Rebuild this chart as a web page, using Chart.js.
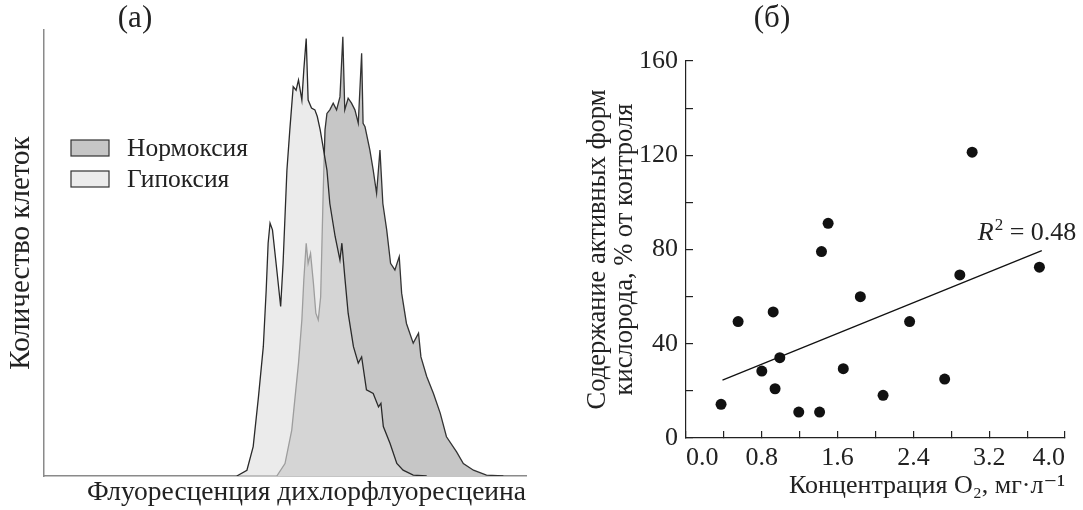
<!DOCTYPE html>
<html>
<head>
<meta charset="utf-8">
<script src="https://cdn.jsdelivr.net/npm/chart.js@4.4.0/dist/chart.umd.min.js"></script>
<style>
    body { margin: 0; background: #fff; }
    #left { position: absolute; left: 0; top: 0; }
    #right { position: absolute; left: 560px; top: 0; }
</style>
</head>
<body>
<canvas id="left" width="545" height="510"></canvas>
<canvas id="right" width="523" height="510"></canvas>
<script>

// panel (a) - histograms, fluorescence channel (0-100) vs cell count (0-100, arbitrary)
var hypoxiaX = [40.0, 42.1, 43.4, 44.5, 45.5, 46.1, 46.5, 46.9, 47.4, 48.3, 49.1, 49.6, 50.4, 51.0, 51.7, 52.3, 52.8, 53.5, 53.9, 54.4, 54.8, 55.5, 56.2, 56.7, 57.3, 57.9, 58.7, 59.3, 60.4, 61.4, 61.8, 62.4, 63.1, 64.2, 65.2, 65.9, 66.9, 68.3, 69.4, 69.9, 70.4, 71.8, 73.2, 74.5, 76.6, 79.4];
var hypoxiaY = [0, 1.3, 6.6, 17.8, 29.0, 41.7, 52.2, 56.7, 55.2, 46.2, 38.0, 47.7, 68.6, 77.6, 87.3, 86.5, 88.8, 84.3, 91.0, 98.1, 84.3, 82.5, 82.1, 80.6, 77.6, 73.8, 68.6, 61.1, 53.7, 48.4, 52.2, 44.7, 36.5, 29.0, 25.3, 26.7, 19.3, 18.5, 15.5, 16.3, 11.1, 7.3, 2.8, 1.3, 0.2, 0];

var normoxiaX = [48.3, 50.0, 51.4, 52.8, 53.5, 53.9, 54.4, 54.8, 55.3, 55.9, 56.4, 56.9, 57.4, 57.9, 58.3, 58.7, 59.3, 60.0, 60.7, 61.4, 62.0, 62.4, 63.1, 63.8, 64.5, 65.2, 65.9, 66.2, 66.6, 67.6, 68.3, 69.0, 69.7, 70.3, 71.1, 71.9, 72.8, 73.7, 74.2, 75.2, 76.6, 77.7, 78.2, 79.4, 80.8, 82.2, 83.5, 85.6, 87.0, 89.1, 91.8, 95.3];
var normoxiaY = [0, 2.8, 10.3, 25.3, 35.0, 43.9, 52.2, 47.7, 49.9, 43.2, 36.5, 35.0, 40.2, 62.6, 77.6, 81.3, 82.1, 83.6, 82.1, 85.0, 98.5, 82.1, 84.7, 83.6, 82.1, 79.1, 94.8, 79.1, 78.3, 73.1, 68.6, 63.4, 73.1, 61.1, 55.2, 47.7, 46.2, 49.2, 41.0, 34.2, 29.8, 32.0, 26.7, 22.3, 18.5, 14.1, 8.8, 5.4, 2.8, 1.3, 0.2, 0];

var seriesNames = ['Нормоксия', 'Гипоксия'];

// panel (б) - scatter
var concO2 = [0.37, 0.55, 0.80, 0.92, 0.94, 0.99, 1.19, 1.41, 1.43, 1.50, 1.66, 1.84, 2.08, 2.36, 2.73, 2.89, 3.02, 3.73];
var rosContent = [14.3, 49.4, 28.4, 53.5, 20.9, 34.1, 11.0, 11.0, 79.1, 91.1, 29.4, 60.0, 18.1, 49.4, 25.0, 69.2, 121.3, 72.5];
var trendX = [0.385, 3.755];
var trendY = [24.6, 79.5];
var rSquared = '0.48';

var serif = "'Liberation Serif', 'DejaVu Serif', serif";
var ink = '#222';

function toPoints(xs, ys) {
    return xs.map(function (x, i) { return { x: x, y: ys[i] }; });
}

// panel letters like (a) / (б)
var panelLabel = {
    id: 'panelLabel',
    afterDraw: function (chart, args, opts) {
        var ctx = chart.ctx;
        ctx.save();
        ctx.font = opts.size + 'px ' + serif;
        ctx.fillStyle = ink;
        ctx.textAlign = 'center';
        ctx.textBaseline = 'middle';
        ctx.fillText(opts.text, opts.x, opts.y);
        ctx.restore();
    }
};

// legend with boxes inside plot area
var boxLegend = {
    id: 'boxLegend',
    afterDraw: function (chart, args, opts) {
        if (!opts.labels) return;
        var ctx = chart.ctx;
        var a = chart.chartArea;
        ctx.save();
        ctx.font = opts.size + 'px ' + serif;
        ctx.textBaseline = 'middle';
        ctx.textAlign = 'left';
        opts.labels.forEach(function (lab, i) {
            var x = a.left + opts.dx;
            var y = a.top + opts.dy + i * opts.gap;
            ctx.fillStyle = opts.colors[i];
            ctx.fillRect(x, y, 38, 16);
            ctx.strokeStyle = '#333';
            ctx.lineWidth = 1.2;
            ctx.strokeRect(x, y, 38, 16);
            ctx.fillStyle = ink;
            ctx.fillText(lab, x + 56, y + 9);
        });
        ctx.restore();
    }
};

// R^2 note near the end of the trend line
var r2Note = {
    id: 'r2Note',
    afterDraw: function (chart, args, opts) {
        if (!opts.text) return;
        var ctx = chart.ctx;
        var xs = chart.scales.x, ys = chart.scales.y;
        var x = xs.getPixelForValue(trendX[1]) - 64;
        var y = ys.getPixelForValue(trendY[1]) - 11;
        ctx.save();
        ctx.fillStyle = ink;
        ctx.textBaseline = 'alphabetic';
        ctx.textAlign = 'left';
        ctx.font = 'italic 26px ' + serif;
        ctx.fillText('R', x, y);
        x += ctx.measureText('R').width + 1;
        ctx.font = '17px ' + serif;
        ctx.fillText('2', x, y - 10);
        x += ctx.measureText('2').width;
        ctx.font = '26px ' + serif;
        ctx.fillText(' = ' + opts.text, x, y);
        ctx.restore();
    }
};

Chart.register(panelLabel, boxLegend, r2Note);

// panel (a)
new Chart(document.getElementById('left'), {
    type: 'scatter',
    data: {
        datasets: [{
            label: seriesNames[0],
            data: toPoints(normoxiaX, normoxiaY),
            showLine: true,
            fill: 'origin',
            backgroundColor: '#c6c6c6',
            borderColor: '#333',
            borderWidth: 1.3,
            pointRadius: 0,
            tension: 0,
            order: 2
        }, {
            label: seriesNames[1],
            data: toPoints(hypoxiaX, hypoxiaY),
            showLine: true,
            fill: 'origin',
            backgroundColor: 'rgba(222,222,222,0.62)',
            borderColor: '#2a2a2a',
            borderWidth: 1.3,
            pointRadius: 0,
            tension: 0,
            order: 1
        }]
    },
    options: {
        responsive: false,
        animation: false,
        events: [],
        layout: { padding: { left: 0, top: 30, right: 19, bottom: 0 } },
        scales: {
            x: {
                type: 'linear', min: 0, max: 100,
                afterFit: function (s) { s.height = 34; },
                ticks: { display: false },
                grid: { display: false },
                border: { color: '#8a8a8a', width: 1.5 },
                title: {
                    display: true, text: 'Флуоресценция дихлорфлуоресцеина', align: 'end',
                    color: ink, font: { family: serif, size: 27.5, lineHeight: 1.2 }, padding: { top: 0, bottom: 1 }
                }
            },
            y: {
                min: 0, max: 100,
                afterFit: function (s) { s.width = 44; },
                ticks: { display: false },
                grid: { display: false },
                border: { color: '#8a8a8a', width: 1.5 },
                title: {
                    display: true, text: 'Количество клеток',
                    color: ink, font: { family: serif, size: 29, lineHeight: 1.2 }, padding: { top: 4, bottom: 0 }
                }
            }
        },
        plugins: {
            legend: { display: false },
            tooltip: { enabled: false },
            panelLabel: { text: '(a)', x: 135, y: 19, size: 31 },
            boxLegend: { labels: seriesNames, colors: ['#c6c6c6', '#ececec'], dx: 27, dy: 110, gap: 31, size: 25.5 }
        }
    }
});

// panel (б)
new Chart(document.getElementById('right'), {
    type: 'scatter',
    data: {
        datasets: [{
            data: toPoints(concO2, rosContent),
            backgroundColor: '#111',
            borderColor: '#111',
            pointRadius: 5.5,
            pointBorderWidth: 0
        }, {
            data: toPoints(trendX, trendY),
            showLine: true,
            borderColor: '#111',
            borderWidth: 1.3,
            pointRadius: 0
        }]
    },
    options: {
        responsive: false,
        animation: false,
        events: [],
        layout: { padding: { left: 0, top: 61, right: 18, bottom: 0 } },
        scales: {
            x: {
                type: 'linear', min: 0, max: 4,
                afterFit: function (s) { s.height = 72; },
                ticks: {
                    stepSize: 0.4, autoSkip: false, maxRotation: 0, align: 'inner', padding: 12,
                    color: ink, font: { family: serif, size: 26 },
                    callback: function (v, i) { return i % 2 === 0 ? v.toFixed(1) : ''; }
                },
                grid: { drawOnChartArea: false, tickLength: -7, color: ink, lineWidth: 1.2 },
                border: { color: ink, width: 1.2 },
                title: {
                    display: true, text: 'Концентрация O₂, мг·л⁻¹', align: 'end',
                    color: ink, font: { family: serif, size: 26, lineHeight: 1.2 }, padding: { top: 0, bottom: 8 }
                }
            },
            y: {
                min: 0, max: 160,
                afterFit: function (s) { s.width = 126; },
                ticks: {
                    stepSize: 20, autoSkip: false, padding: 15,
                    color: ink, font: { family: serif, size: 26 },
                    callback: function (v, i) { return i % 2 === 0 ? v : ''; }
                },
                grid: { drawOnChartArea: false, tickLength: -7, color: ink, lineWidth: 1.2 },
                border: { color: ink, width: 1.2 },
                title: {
                    display: true, text: ['Содержание активных форм', 'кислорода, % от контроля'],
                    color: ink, font: { family: serif, size: 26.5, lineHeight: 1.03 }, padding: { top: 24, bottom: 0 }
                }
            }
        },
        plugins: {
            legend: { display: false },
            tooltip: { enabled: false },
            panelLabel: { text: '(б)', x: 212, y: 19, size: 31 },
            r2Note: { text: rSquared }
        }
    }
});

</script>
</body>
</html>
